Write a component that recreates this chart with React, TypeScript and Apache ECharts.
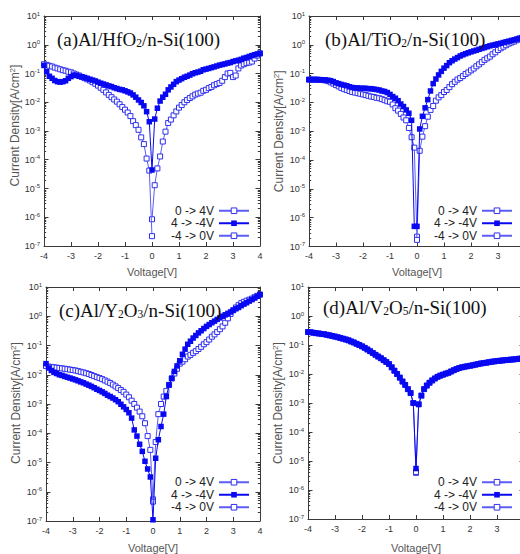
import { useEffect, useRef } from 'react';
import * as echarts from 'echarts';

// ---------------- data ----------------
const voltage = [
  -4.0, -3.9, -3.8, -3.7, -3.6, -3.5, -3.4, -3.3, -3.2, -3.1,
  -3.0, -2.9, -2.8, -2.7, -2.6, -2.5, -2.4, -2.3, -2.2, -2.1,
  -2.0, -1.9, -1.8, -1.7, -1.6, -1.5, -1.4, -1.3, -1.2, -1.1,
  -1.0, -0.9, -0.8, -0.7, -0.6, -0.5, -0.4, -0.3, -0.2, -0.1,
  0.0, 0.1, 0.2, 0.3, 0.4, 0.5, 0.6, 0.7, 0.8, 0.9,
  1.0, 1.1, 1.2, 1.3, 1.4, 1.5, 1.6, 1.7, 1.8, 1.9,
  2.0, 2.1, 2.2, 2.3, 2.4, 2.5, 2.6, 2.7, 2.8, 2.9,
  3.0, 3.1, 3.2, 3.3, 3.4, 3.5, 3.6, 3.7, 3.8, 3.9, 4.0,
];
const voltagePos = voltage.slice(40); // 0 .. 4 V
const voltageNeg = voltage.slice(0, 41); // -4 .. 0 V

const seriesNames = ['0 -> 4V', '4 -> -4V', '-4 -> 0V'];

// (a) Al/HfO2/n-Si(100)
const hfoForward = [8.5e-7, 1.3e-5, 5e-5, 1.3e-4, 4.3e-4, 9.5e-4, 1.9e-3, 2.5e-3, 3.5e-3, 4.8e-3, 6.5e-3, 8e-3, 0.01, 0.012, 0.014, 0.016, 0.0185, 0.02, 0.0215, 0.025, 0.027, 0.031, 0.034, 0.039, 0.043, 0.047, 0.056, 0.075, 0.1, 0.105, 0.075, 0.085, 0.15, 0.19, 0.21, 0.23, 0.24, 0.26, 0.33, 0.42, 0.5];
const hfoSweep = [0.19, 0.115, 0.08, 0.068, 0.057, 0.052, 0.05, 0.052, 0.056, 0.068, 0.078, 0.088, 0.085, 0.08, 0.077, 0.073, 0.068, 0.063, 0.059, 0.055, 0.05, 0.046, 0.043, 0.04, 0.037, 0.035, 0.032, 0.03, 0.028, 0.027, 0.025, 0.023, 0.021, 0.018, 0.015, 0.012, 0.0098, 0.0075, 0.0047, 0.0021, 4.4e-5,
  0.0026, 0.0062, 0.011, 0.015, 0.019, 0.027, 0.034, 0.042, 0.052, 0.059, 0.066, 0.074, 0.08, 0.088, 0.098, 0.106, 0.112, 0.12, 0.135, 0.142, 0.15, 0.16, 0.17, 0.182, 0.195, 0.205, 0.215, 0.23, 0.24, 0.26, 0.275, 0.29, 0.31, 0.34, 0.36, 0.39, 0.42, 0.45, 0.48, 0.5];
const hfoReverse = [0.21, 0.2, 0.185, 0.175, 0.16, 0.15, 0.14, 0.13, 0.125, 0.115, 0.11, 0.1, 0.092, 0.085, 0.076, 0.069, 0.063, 0.057, 0.05, 0.044, 0.038, 0.032, 0.027, 0.022, 0.018, 0.015, 0.0125, 0.0105, 0.0085, 0.0068, 0.0055, 0.0044, 0.0033, 0.0022, 0.0016, 0.0011, 6e-4, 3.5e-4, 1.1e-4, 4.2e-5, 2.2e-7];

// (b) Al/TiO2/n-Si(100)
const tioForward = [2.2e-7, 2.1e-4, 6.5e-4, 1.5e-3, 3.2e-3, 5.5e-3, 7.5e-3, 0.0115, 0.015, 0.018, 0.023, 0.027, 0.034, 0.043, 0.052, 0.062, 0.07, 0.082, 0.097, 0.11, 0.13, 0.15, 0.18, 0.21, 0.25, 0.3, 0.34, 0.39, 0.47, 0.55, 0.66, 0.76, 0.86, 0.97, 1.1, 1.2, 1.3, 1.45, 1.6, 1.75, 1.9];
const tioSweep = [0.062, 0.062, 0.062, 0.062, 0.061, 0.061, 0.06, 0.059, 0.057, 0.053, 0.048, 0.045, 0.042, 0.04, 0.038, 0.035, 0.033, 0.032, 0.032, 0.031, 0.031, 0.031, 0.03, 0.03, 0.029, 0.028, 0.027, 0.025, 0.024, 0.022, 0.019, 0.016, 0.014, 0.0115, 0.0088, 0.0072, 0.0055, 0.0042, 0.0024, 5e-7, 5e-7,
  1.2e-3, 3.3e-3, 6.5e-3, 0.0125, 0.025, 0.045, 0.065, 0.09, 0.12, 0.155, 0.19, 0.24, 0.28, 0.32, 0.36, 0.41, 0.45, 0.49, 0.53, 0.57, 0.61, 0.65, 0.7, 0.75, 0.8, 0.86, 0.92, 0.97, 1.02, 1.08, 1.13, 1.2, 1.27, 1.34, 1.42, 1.5, 1.6, 1.7, 1.8, 1.9];
const tioReverse = [0.062, 0.062, 0.062, 0.062, 0.061, 0.06, 0.058, 0.055, 0.05, 0.045, 0.04, 0.036, 0.032, 0.029, 0.027, 0.025, 0.023, 0.022, 0.021, 0.02, 0.019, 0.018, 0.017, 0.016, 0.0155, 0.0145, 0.014, 0.013, 0.012, 0.011, 0.0105, 0.0085, 0.0063, 0.0052, 0.004, 0.003, 0.0024, 0.0013, 6.2e-4, 2.7e-4, 1.7e-7];

// (c) Al/Y2O3/n-Si(100)
const yoForward = [5.5e-7, 5e-5, 4.5e-4, 1.0e-3, 1.8e-3, 2.8e-3, 4.5e-3, 7.5e-3, 0.011, 0.016, 0.024, 0.028, 0.034, 0.042, 0.048, 0.056, 0.064, 0.076, 0.09, 0.11, 0.13, 0.16, 0.2, 0.24, 0.29, 0.36, 0.45, 0.6, 0.85, 1.2, 1.6, 2.0, 2.4, 2.8, 3.1, 3.4, 3.7, 4.0, 4.5, 5.0, 5.5];
const yoSweep = [0.024, 0.017, 0.014, 0.012, 0.011, 0.01, 0.0095, 0.0088, 0.0082, 0.0077, 0.0072, 0.0067, 0.0062, 0.0057, 0.0053, 0.0048, 0.0044, 0.004, 0.0036, 0.0032, 0.0029, 0.0026, 0.0023, 0.002, 0.0018, 0.0016, 0.0014, 0.0012, 9.8e-4, 8e-4, 6.5e-4, 5e-4, 3.3e-4, 1.3e-4, 8e-5, 4.2e-5, 2.4e-5, 1.1e-5, 6e-6, 3.2e-6, 1.1e-7,
  1.4e-5, 6e-5, 1.7e-4, 4.5e-4, 1.8e-3, 4.5e-3, 7.5e-3, 0.013, 0.02, 0.03, 0.05, 0.075, 0.11, 0.14, 0.18, 0.22, 0.27, 0.32, 0.38, 0.45, 0.52, 0.6, 0.68, 0.78, 0.88, 1.0, 1.12, 1.25, 1.4, 1.6, 1.8, 2.0, 2.3, 2.6, 2.9, 3.3, 3.7, 4.2, 4.8, 5.5];
const yoReverse = [0.02, 0.019, 0.0185, 0.018, 0.0175, 0.017, 0.0165, 0.016, 0.0155, 0.015, 0.0145, 0.014, 0.0133, 0.0126, 0.012, 0.0113, 0.0106, 0.0098, 0.009, 0.0083, 0.0077, 0.0071, 0.0064, 0.0058, 0.0052, 0.0046, 0.004, 0.0035, 0.003, 0.0026, 0.0021, 0.0017, 0.0013, 0.001, 7.5e-4, 5.5e-4, 3.8e-4, 2.2e-4, 8e-5, 2.7e-5, 4.6e-7];

// (d) Al/V2O5/n-Si(100)
const voForward = [3.9e-6, 9e-4, 1.8e-3, 3e-3, 4e-3, 5e-3, 6e-3, 7e-3, 8e-3, 8.8e-3, 9.5e-3, 0.0103, 0.011, 0.0122, 0.0135, 0.0148, 0.016, 0.017, 0.0178, 0.0185, 0.0192, 0.02, 0.021, 0.022, 0.023, 0.0238, 0.0245, 0.0255, 0.0265, 0.0272, 0.028, 0.0287, 0.0293, 0.03, 0.0306, 0.0312, 0.0318, 0.0325, 0.0335, 0.034, 0.035];
const voSweep = [0.28, 0.275, 0.265, 0.255, 0.25, 0.24, 0.235, 0.225, 0.215, 0.205, 0.195, 0.185, 0.175, 0.165, 0.155, 0.145, 0.132, 0.122, 0.11, 0.1, 0.09, 0.08, 0.07, 0.061, 0.053, 0.046, 0.04, 0.035, 0.03, 0.026, 0.022, 0.017, 0.013, 0.01, 0.0075, 0.0055, 0.0042, 0.003, 0.0022, 0.001, 5.5e-6,
  9e-4, 1.8e-3, 3e-3, 4e-3, 5e-3, 6e-3, 7e-3, 8e-3, 8.8e-3, 9.5e-3, 0.0103, 0.011, 0.0122, 0.0135, 0.0148, 0.016, 0.017, 0.0178, 0.0185, 0.0192, 0.02, 0.021, 0.022, 0.023, 0.0238, 0.0245, 0.0255, 0.0265, 0.0272, 0.028, 0.0287, 0.0293, 0.03, 0.0306, 0.0312, 0.0318, 0.0325, 0.0335, 0.034, 0.035];
const voReverse = [0.28, 0.275, 0.265, 0.255, 0.25, 0.24, 0.235, 0.225, 0.215, 0.205, 0.195, 0.185, 0.175, 0.165, 0.155, 0.145, 0.132, 0.122, 0.11, 0.1, 0.09, 0.08, 0.07, 0.061, 0.053, 0.046, 0.04, 0.035, 0.03, 0.026, 0.022, 0.017, 0.013, 0.01, 0.0075, 0.0055, 0.0042, 0.003, 0.0022, 0.001, 4.2e-6];

const panelTitles = [
  '{n|(a)Al/HfO}{s|2}{n|/n-Si(100)}',
  '{n|(b)Al/TiO}{s|2}{n|/n-Si(100)}',
  '{n|(c)Al/Y}{s|2}{n|O}{s|3}{n|/n-Si(100)}',
  '{n|(d)Al/V}{s|2}{n|O}{s|5}{n|/n-Si(100)}',
];

const panelData = [
  { fwd: hfoForward, sweep: hfoSweep, rev: hfoReverse },
  { fwd: tioForward, sweep: tioSweep, rev: tioReverse },
  { fwd: yoForward, sweep: yoSweep, rev: yoReverse },
  { fwd: voForward, sweep: voSweep, rev: voReverse },
];

// ---------------- layout / style ----------------
const layout = [
  { grid: { left: 44, top: 16, width: 216, height: 230 }, yGap: 21, yPad: [0, 0, 0, 11], xGap: 20, showMax: true, title: { left: 57, top: 29 }, legend: { right: 270, top: 204.5 } },
  { grid: { left: 309, top: 16, width: 216, height: 230.5 }, yGap: 24, yPad: [0, 0, 0, 0], xGap: 20, showMax: false, title: { left: 325, top: 29 }, legend: { right: 7, top: 204.5 } },
  { grid: { left: 46, top: 287, width: 214, height: 234 }, yGap: 24, yPad: [0, 0, 0, 2], xGap: 21, showMax: true, title: { left: 59, top: 300 }, legend: { right: 270, top: 476 } },
  { grid: { left: 308, top: 287, width: 216, height: 232 }, yGap: 24, yPad: [0, 0, 0, 0], xGap: 23, showMax: false, title: { left: 323, top: 297 }, legend: { right: 7, top: 476 } },
];

const FILLED = '#0808f2';
const OPEN_MARK = '#3030f0';
const OPEN_LINE = '#5c5cf6';
const AXIS = '#3a3a3a';
const SANS = "'Liberation Sans', Arial, sans-serif";
const SERIF = "'Liberation Serif', 'Times New Roman', serif";

const minorTicks: number[] = [];
for (let e = -7; e < 1; e++) {
  for (let k = 2; k <= 9; k++) minorTicks.push(k * Math.pow(10, e));
}

const pairs = (xs: number[], ys: number[]) => ys.map((y, i) => [xs[i], y]);

function buildOption() {
  const grid: any[] = [];
  const xAxis: any[] = [];
  const yAxis: any[] = [];
  const series: any[] = [];
  const title: any[] = [];
  const legend: any[] = [];

  layout.forEach((p, i) => {
    grid.push({ ...p.grid, containLabel: false, outerBoundsMode: 'none' });
    const xBase = {
      type: 'value', gridIndex: i, min: -4, max: 4, interval: 1,
      splitLine: { show: false },
      axisLine: { show: true, onZero: false, lineStyle: { color: AXIS, width: 1 } },
      axisTick: { show: true, inside: true, length: 4, lineStyle: { color: AXIS } },
    };
    xAxis.push({
      ...xBase, position: 'bottom',
      axisLabel: { show: true, fontSize: 9, color: '#333', fontFamily: SANS, margin: 5, showMaxLabel: p.showMax },
      name: 'Voltage[V]', nameLocation: 'middle', nameGap: p.xGap,
      nameTextStyle: { fontSize: 11, color: '#555', fontFamily: SANS },
    });
    xAxis.push({ ...xBase, position: 'top', axisLabel: { show: false } });

    const yBase = {
      type: 'log', logBase: 10, gridIndex: i, min: 1e-7, max: 10,
      splitLine: { show: false },
      axisLine: { show: true, onZero: false, lineStyle: { color: AXIS, width: 1 } },
      axisTick: { show: true, inside: true, length: 4.5, lineStyle: { color: AXIS } },
    };
    yAxis.push({
      ...yBase, position: 'left',
      axisLabel: {
        show: true, margin: 4,
        formatter: (v: number) => `{b|10}{s|${Math.round(Math.log10(v))}}`,
        rich: {
          b: { fontSize: 9, color: '#333', fontFamily: SANS, lineHeight: 11 },
          s: { fontSize: 6, color: '#333', fontFamily: SANS, verticalAlign: 'top', lineHeight: 6 },
        },
      },
      name: '{a|Current Density[A/cm}{s|2}{a|]}', nameLocation: 'middle', nameGap: p.yGap,
      nameTextStyle: {
        padding: p.yPad,
        rich: {
          a: { fontSize: 12, color: '#555', fontFamily: SANS, lineHeight: 13 },
          s: { fontSize: 8, color: '#555', fontFamily: SANS, verticalAlign: 'top', lineHeight: 8 },
        },
      },
    });
    yAxis.push({ ...yBase, position: 'right', axisLabel: { show: false } });
    const minorBase = {
      ...yBase,
      axisLine: { show: false, onZero: false },
      axisLabel: { show: false },
      axisTick: { show: true, inside: true, length: 2.2, customValues: minorTicks, lineStyle: { color: AXIS } },
    };
    yAxis.push({ ...minorBase, position: 'left' });
    yAxis.push({ ...minorBase, position: 'right' });

    const d = panelData[i];
    const common = {
      type: 'line', xAxisIndex: 2 * i, yAxisIndex: 4 * i, symbol: 'rect',
      emphasis: { disabled: true }, clip: true,
    };
    const openStyle = {
      symbolSize: 5,
      itemStyle: { color: '#ffffff', borderColor: OPEN_MARK, borderWidth: 1 },
      lineStyle: { color: OPEN_LINE, width: 1 },
    };
    series.push({ ...common, ...openStyle, name: seriesNames[0], data: pairs(voltagePos, d.fwd), z: 2 });
    series.push({
      ...common, name: seriesNames[1], data: pairs(voltage, d.sweep), z: 4, symbolSize: 5.5,
      itemStyle: { color: FILLED }, lineStyle: { color: FILLED, width: 1 },
    });
    series.push({ ...common, ...openStyle, name: seriesNames[2], data: pairs(voltageNeg, d.rev), z: 3 });

    title.push({
      text: panelTitles[i], left: p.title.left, top: p.title.top, padding: 0,
      textStyle: {
        fontWeight: 'normal',
        rich: {
          n: { fontSize: 19, fontFamily: SERIF, fontWeight: 'normal', color: '#111', lineHeight: 20 },
          s: { fontSize: 11.5, fontFamily: SERIF, fontWeight: 'normal', color: '#111', verticalAlign: 'bottom', lineHeight: 13 },
        },
      },
    });

    legend.push({
      data: seriesNames, orient: 'vertical', align: 'right',
      right: p.legend.right, top: p.legend.top, padding: 0,
      itemWidth: 30, itemHeight: 7, itemGap: 0, selectedMode: false,
      itemStyle: { borderWidth: 1 },
      textStyle: { fontSize: 12, color: '#222', fontFamily: SANS, lineHeight: 12.5 },
    });
  });

  return { animation: false, backgroundColor: '#ffffff', grid, xAxis, yAxis, series, title, legend };
}

export default function App() {
  const ref = useRef<HTMLDivElement>(null);
  useEffect(() => {
    if (!ref.current) return;
    const chart = echarts.init(ref.current, null, { renderer: 'svg' });
    chart.setOption(buildOption() as any);
    return () => chart.dispose();
  }, []);
  return (
    <div
      ref={ref}
      style={{ position: 'absolute', left: 0, top: 0, width: 520, height: 554, overflow: 'hidden', background: '#fff' }}
    />
  );
}
